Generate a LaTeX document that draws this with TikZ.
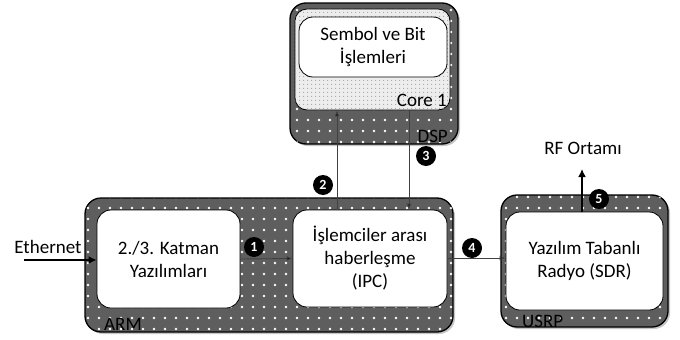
\documentclass[tikz,border=0pt]{standalone}
\usepackage{fontspec}
\setmainfont{Carlito}
\usetikzlibrary{patterns.meta,shadows,arrows.meta}
\begin{document}
\begin{tikzpicture}[x=1pt,y=-1pt,
  outerbox/.style={draw=black, line width=1.3pt, rounded corners=16pt, fill=black!63,
    postaction={pattern={Dots[distance=11pt,radius=1.3pt]}, pattern color=white},
    drop shadow={shadow xshift=2pt, shadow yshift=-2pt, opacity=0.45}, inner sep=0pt},
  corebox/.style={draw=black, line width=0.8pt, rounded corners=12pt, fill=gray!14,
    postaction={pattern={Dots[distance=4pt,radius=0.7pt]}, pattern color=gray!70}, inner sep=0pt},
  whitebox/.style={draw=black, line width=0.8pt, rounded corners=14pt, fill=white,
    align=center, inner sep=0pt, font=\fontsize{19}{23}\selectfont},
  lbl/.style={inner sep=0pt, font=\fontsize{19}{23}\selectfont},
  badge/.style={circle, fill=black, text=white, inner sep=0pt, minimum size=20pt,
    font=\bfseries\fontsize{14}{14}\selectfont},
  thinarrow/.style={draw=black!75, line width=0.9pt, -{Latex[length=6pt,width=5pt,fill=black]}},
  thickarrow/.style={draw=black, line width=2.4pt, -{Latex[length=8pt,width=8pt]}}]
\useasboundingbox (0,0) rectangle (680,340);

% DSP
\node[outerbox, minimum width=168pt, minimum height=141pt] (dsp) at (374,73.5) {};
\node[corebox, minimum width=155pt, minimum height=101pt] (core) at (372.5,59.5) {};
\node[whitebox, minimum width=148pt, minimum height=60pt] (sembol) at (373,47) {Sembol ve Bit\\İşlemleri};
\node[lbl, anchor=base east] (corelbl) at (447,106) {Core 1};
\node[lbl, anchor=base east] (dsplbl) at (448,142) {DSP};

% ARM
\node[outerbox, minimum width=368pt, minimum height=134pt] (arm) at (269,265) {};
\node[whitebox, minimum width=143pt, minimum height=98pt] (katman) at (168.5,259) {2./3. Katman\\Yazılımları};
\node[whitebox, minimum width=154pt, minimum height=97pt] (ipc) at (370,258.5) {İşlemciler arası\\haberleşme\\(IPC)};
\node[lbl, anchor=base west] (armlbl) at (104,330) {ARM};

% USRP
\node[outerbox, minimum width=167pt, minimum height=132pt] (usrp) at (584.5,261) {};
\node[whitebox, minimum width=157pt, minimum height=98pt] (sdr) at (584.5,261) {Yazılım Tabanlı\\Radyo (SDR)};
\node[lbl, anchor=base west] (usrplbl) at (522,327) {USRP};

% Ethernet
\node[lbl] (eth) at (48,247) {Ethernet};
\coordinate (ethstart) at (24,260);
\draw[thickarrow] (ethstart) -- (ethstart -| katman.west);

% arrows
\draw[thinarrow] (katman.east) -- (ipc.west);
\coordinate (c2) at (337,0);
\coordinate (c3) at (409,0);
\draw[thinarrow] (c2 |- ipc.north) -- (c2 |- core.south);
\draw[thinarrow] (c3 |- core.south) -- (c3 |- ipc.north);
\coordinate (c4) at (0,258);
\draw[thinarrow] (c4 -| ipc.east) -- (c4 -| sdr.west);

% RF
\node[lbl] (rf) at (583,148) {RF Ortamı};
\coordinate (c5) at (582,0);
\coordinate (rfend) at (582,169);
\draw[thickarrow] (c5 |- sdr.north) -- (rfend);

% badges
\node[badge] (b1) at (254,247) {1};
\node[badge] (b2) at (323,185) {2};
\node[badge] (b3) at (426,156) {3};
\node[badge] (b4) at (472,248) {4};
\node[badge] (b5) at (599,199) {5};
\end{tikzpicture}
\end{document}
